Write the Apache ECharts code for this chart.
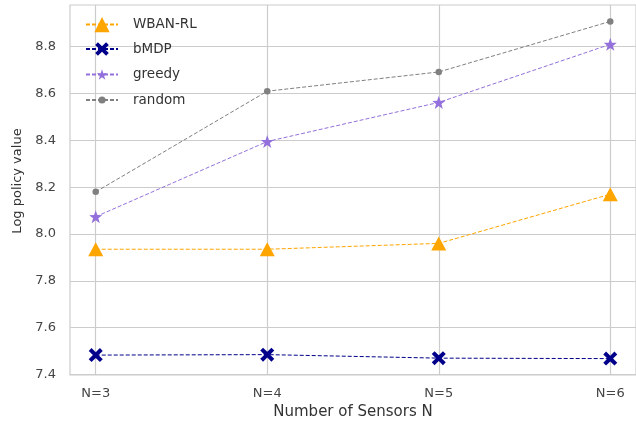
<!DOCTYPE html>
<html>
<head>
<meta charset="utf-8">
<script src="https://cdn.jsdelivr.net/npm/echarts@6/dist/echarts.min.js"></script>
<style>html,body{margin:0;padding:0;background:#fff}#c{width:636px;height:428px}</style>
</head>
<body>
<div id="c"></div>
<script>
const categories = ['N=3', 'N=4', 'N=5', 'N=6'];
const wbanRL = [7.935, 7.935, 7.96, 8.17];
const bMDP = [7.483, 7.485, 7.47, 7.468];
const greedy = [8.074, 8.395, 8.562, 8.81];
const random = [8.18, 8.61, 8.692, 8.908];
const yTicks = [7.4, 7.6, 7.8, 8.0, 8.2, 8.4, 8.6, 8.8];
const seriesNames = ['WBAN-RL', 'bMDP', 'greedy', 'random'];
const seriesColors = ['#FFA500', '#00008B', '#9370DB', '#808080'];

const FONT = 'DejaVu Sans, Verdana, sans-serif';
const STAR = 'path://M12,0 L14.9,8.1 L23.4,8.3 L16.6,13.5 L19.1,21.7 L12,16.8 L4.9,21.7 L7.4,13.5 L0.6,8.3 L9.1,8.1 Z';
const XMARK = 'path://M0,4 L4,0 L10,6 L16,0 L20,4 L14,10 L20,16 L16,20 L10,14 L4,20 L0,16 L6,10 Z';

function pts(arr) { return arr.map((v, i) => [i, v]); }
function mk(idx, data, symbol, size) {
  const color = seriesColors[idx];
  return {
    name: seriesNames[idx], type: 'line', data: pts(data),
    symbol: symbol, symbolSize: size,
    lineStyle: { color: color, width: 1, type: [4, 2] },
    itemStyle: { color: color, borderWidth: 0 },
    emphasis: { disabled: true }, animation: false
  };
}
// one legend per series so each legend marker can have its own size
const legendRows = [
  { idx: 0, center: 26.5, h: 19 },
  { idx: 1, center: 50.5, h: 17 },
  { idx: 2, center: 74, h: 13 },
  { idx: 3, center: 97.5, h: 9 }
];
const legends = legendRows.map(r => ({
  orient: 'vertical', left: 85, top: r.center - r.h / 2, padding: 0,
  itemWidth: 32, itemHeight: r.h,
  textStyle: { fontFamily: FONT, fontSize: 13.5, color: '#333', padding: [0, 0, 0, 10] },
  data: [{ name: seriesNames[r.idx], itemStyle: { color: seriesColors[r.idx], borderWidth: 0 } }]
}));

const chart = echarts.init(document.getElementById('c'), null, { renderer: 'canvas' });
chart.setOption({
  backgroundColor: '#fff',
  animation: false,
  grid: { left: 70, top: 5, width: 571, height: 370, show: true, borderColor: '#cccccc', borderWidth: 1.2, backgroundColor: '#fff' },
  legend: legends,
  xAxis: {
    type: 'value', min: -0.15, max: 3.15,
    name: 'Number of Sensors N', nameLocation: 'middle', nameGap: 30,
    nameTextStyle: { fontFamily: FONT, fontSize: 15, color: '#333' },
    axisLine: { show: false }, axisTick: { show: false, customValues: [0, 1, 2, 3] },
    axisLabel: { customValues: [0, 1, 2, 3], formatter: v => categories[Math.round(v)] || '', fontFamily: FONT, fontSize: 13, color: '#444', margin: 12 },
    splitLine: { show: true, lineStyle: { color: '#cccccc', width: 1.2 } }
  },
  yAxis: {
    type: 'value', min: 7.398, max: 8.978,
    name: 'Log policy value', nameLocation: 'middle', nameGap: 45,
    nameTextStyle: { fontFamily: FONT, fontSize: 13, color: '#333', padding: [0, 0, 0, 18] },
    axisLine: { show: false }, axisTick: { show: false, customValues: yTicks },
    axisLabel: { customValues: yTicks, formatter: v => v.toFixed(1), fontFamily: FONT, fontSize: 13, color: '#444', margin: 14 },
    splitLine: { show: true, lineStyle: { color: '#cccccc', width: 1.2 } }
  },
  series: [
    mk(0, wbanRL, 'triangle', [15, 14]),
    mk(1, bMDP, XMARK, 14),
    mk(2, greedy, STAR, 13),
    mk(3, random, 'circle', 6.5)
  ]
});
</script>
</body>
</html>
